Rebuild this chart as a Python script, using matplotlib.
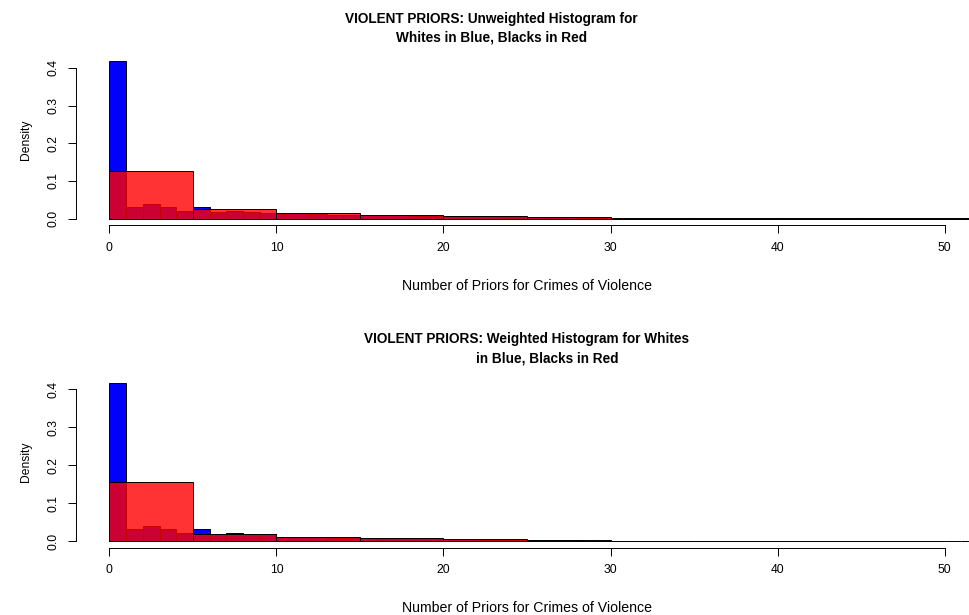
import matplotlib

matplotlib.use("Agg")
import matplotlib.pyplot as plt
import numpy as np

plt.rcParams["font.family"] = ["Liberation Sans", "DejaVu Sans"]

# bin edges (R hist breaks)
white_breaks = np.arange(0, 53, 1)
black_breaks = np.arange(0, 55, 5)

# unweighted densities
white_unw = [0.419, 0.032, 0.040, 0.031, 0.020, 0.030, 0.019, 0.020, 0.017, 0.015,
             0.013, 0.014, 0.012, 0.011, 0.011, 0.010, 0.009, 0.009, 0.008, 0.008,
             0.007, 0.006, 0.006, 0.005, 0.005, 0.004, 0.004, 0.004, 0.003, 0.003,
             0.003, 0.003, 0.002, 0.002, 0.002, 0.002, 0.002, 0.002, 0.001, 0.001,
             0.001, 0.001, 0.001, 0.001, 0.001, 0.001, 0.0005, 0.0005, 0.0005, 0.0005,
             0.0005, 0.0005]
black_unw = [0.1265, 0.0256, 0.016, 0.011, 0.007, 0.005, 0.003, 0.002, 0.001, 0.0005]

# weighted densities
white_wtd = [0.417, 0.033, 0.040, 0.032, 0.022, 0.031, 0.020, 0.022, 0.019, 0.018,
             0.011, 0.012, 0.010, 0.009, 0.009, 0.008, 0.007, 0.007, 0.006, 0.006,
             0.005, 0.005, 0.004, 0.004, 0.004, 0.003, 0.003, 0.003, 0.002, 0.002,
             0.002, 0.002, 0.001, 0.001, 0.001, 0.001, 0.001, 0.001, 0.001, 0.0005,
             0.0005, 0.0005, 0.0005, 0.0005, 0.0005, 0.0005, 0.0003, 0.0003, 0.0003, 0.0003,
             0.0003, 0.0003]
black_wtd = [0.155, 0.019, 0.011, 0.008, 0.005, 0.003, 0.002, 0.001, 0.0005, 0.0003]

xticks = [0, 10, 20, 30, 40, 50]
yticks = [0.0, 0.1, 0.2, 0.3, 0.4]

W, H = 969, 615
fig = plt.figure(figsize=(W / 100, H / 100), dpi=100)


def px_axes(x0, x1, y_top, y_bot):
    return fig.add_axes([x0 / W, 1 - y_bot / H, (x1 - x0) / W, (y_bot - y_top) / H])


def draw_panel(ax, white, black, title1, title2, tx1, tx2, ty):
    ax.bar(white_breaks[:-1], white, width=1, align="edge",
           color="#0000FF", edgecolor="black", linewidth=0.7)
    ax.bar(black_breaks[:-1], black, width=5, align="edge",
           color=(1, 0, 0, 0.8), edgecolor="black", linewidth=0.7)
    ymax = max(white)
    ax.set_xlim(-2, 52)
    ax.set_ylim(-0.04 * ymax, 1.04 * ymax)
    for s in ["top", "right"]:
        ax.spines[s].set_visible(False)
    ax.spines["bottom"].set_bounds(0, 50)
    ax.spines["left"].set_bounds(0, 0.4)
    for s in ["bottom", "left"]:
        ax.spines[s].set_linewidth(0.7)
    ax.set_xticks(xticks)
    ax.set_yticks(yticks)
    ax.set_yticklabels([f"{v:.1f}" for v in yticks], rotation=90, va="center")
    ax.tick_params(axis="both", length=6, width=0.7, labelsize=8.7, pad=6)
    ax.set_xlabel("Number of Priors for Crimes of Violence", fontsize=10.2, labelpad=18)
    ax.set_ylabel("Density", fontsize=8.7, labelpad=11)
    fig.text(tx1 / W, 1 - ty / H, title1, ha="center", va="baseline",
             fontsize=9.8, fontweight="bold")
    fig.text(tx2 / W, 1 - (ty + 19.2) / H, title2, ha="center", va="baseline",
             fontsize=9.8, fontweight="bold")


ax1 = px_axes(76, 978, 54.4, 225)
draw_panel(ax1, white_unw, black_unw,
           "VIOLENT PRIORS: Unweighted Histogram for",
           "Whites in Blue, Blacks in Red", 491, 492, 22.7)

ax2 = px_axes(76, 978, 376.5, 547.6)
draw_panel(ax2, white_wtd, black_wtd,
           "VIOLENT PRIORS: Weighted Histogram for Whites",
           "in Blue, Blacks in Red", 526.5, 547, 343.3)

fig.savefig("out.png", dpi=100)
plt.close(fig)
